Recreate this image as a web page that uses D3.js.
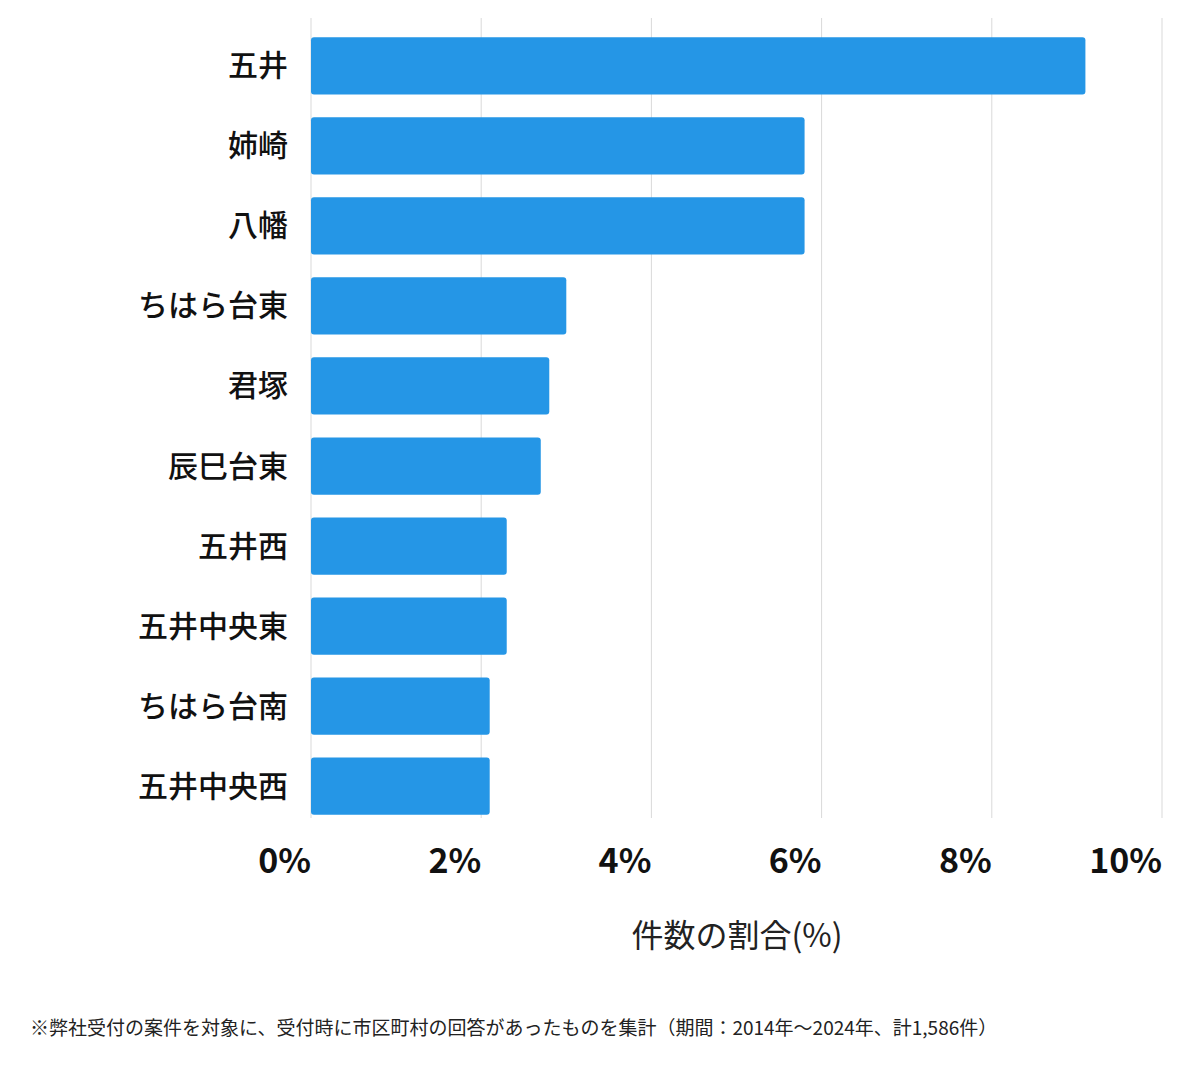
<!DOCTYPE html>
<html><head><meta charset="utf-8">
<script src="https://cdn.jsdelivr.net/npm/d3@7"></script>
<style>body{margin:0;background:#fff;font-family:"Noto Sans CJK JP","Noto Sans",sans-serif}</style>
</head><body><svg id="c" width="1200" height="1069"></svg>
<script>
const categories=["五井","姉崎","八幡","ちはら台東","君塚","辰巳台東","五井西","五井中央東","ちはら台南","五井中央西"];
const values=[9.1,5.8,5.8,3.0,2.8,2.7,2.3,2.3,2.1,2.1];
const ticks=[0,2,4,6,8,10];
const axisTitle="件数の割合(%)";
const footnote="※弊社受付の案件を対象に、受付時に市区町村の回答があったものを集計（期間：2014年～2024年、計1,586件）";

const svg=d3.select("#c");
const x=d3.scaleLinear().domain([0,10]).range([311,1162]);
const y=d3.scaleBand().domain(categories).range([26,826]).paddingInner(0.285).paddingOuter(0.14);

svg.append("g").selectAll("line").data(ticks).join("line")
 .attr("x1",d=>x(d)).attr("x2",d=>x(d)).attr("y1",18).attr("y2",818)
 .attr("stroke","#d9d9d9").attr("stroke-width",1);

svg.append("g").selectAll("rect").data(values).join("rect")
 .attr("x",x(0)).attr("y",(d,i)=>y(categories[i]))
 .attr("width",d=>x(d)-x(0)).attr("height",y.bandwidth())
 .attr("rx",3).attr("fill","#2596e6");

svg.append("g").selectAll("text").data(categories).join("text")
 .attr("x",288).attr("y",d=>y(d)+y.bandwidth()/2).attr("dy","0.35em")
 .attr("text-anchor","end").attr("font-size",30).attr("font-weight",500).attr("fill","#111").text(d=>d);

svg.append("g").selectAll("text").data(ticks).join("text")
 .attr("x",d=>x(d)).attr("y",873).attr("text-anchor","end")
 .attr("font-size",34).attr("font-weight",700).attr("fill","#111").text(d=>d+"%");

svg.append("text").attr("x",737).attr("y",947).attr("text-anchor","middle")
 .attr("font-size",32).attr("fill","#222").text(axisTitle);

svg.append("text").attr("x",30).attr("y",1035).attr("font-size",19).attr("fill","#222").text(footnote);
</script></body></html>
